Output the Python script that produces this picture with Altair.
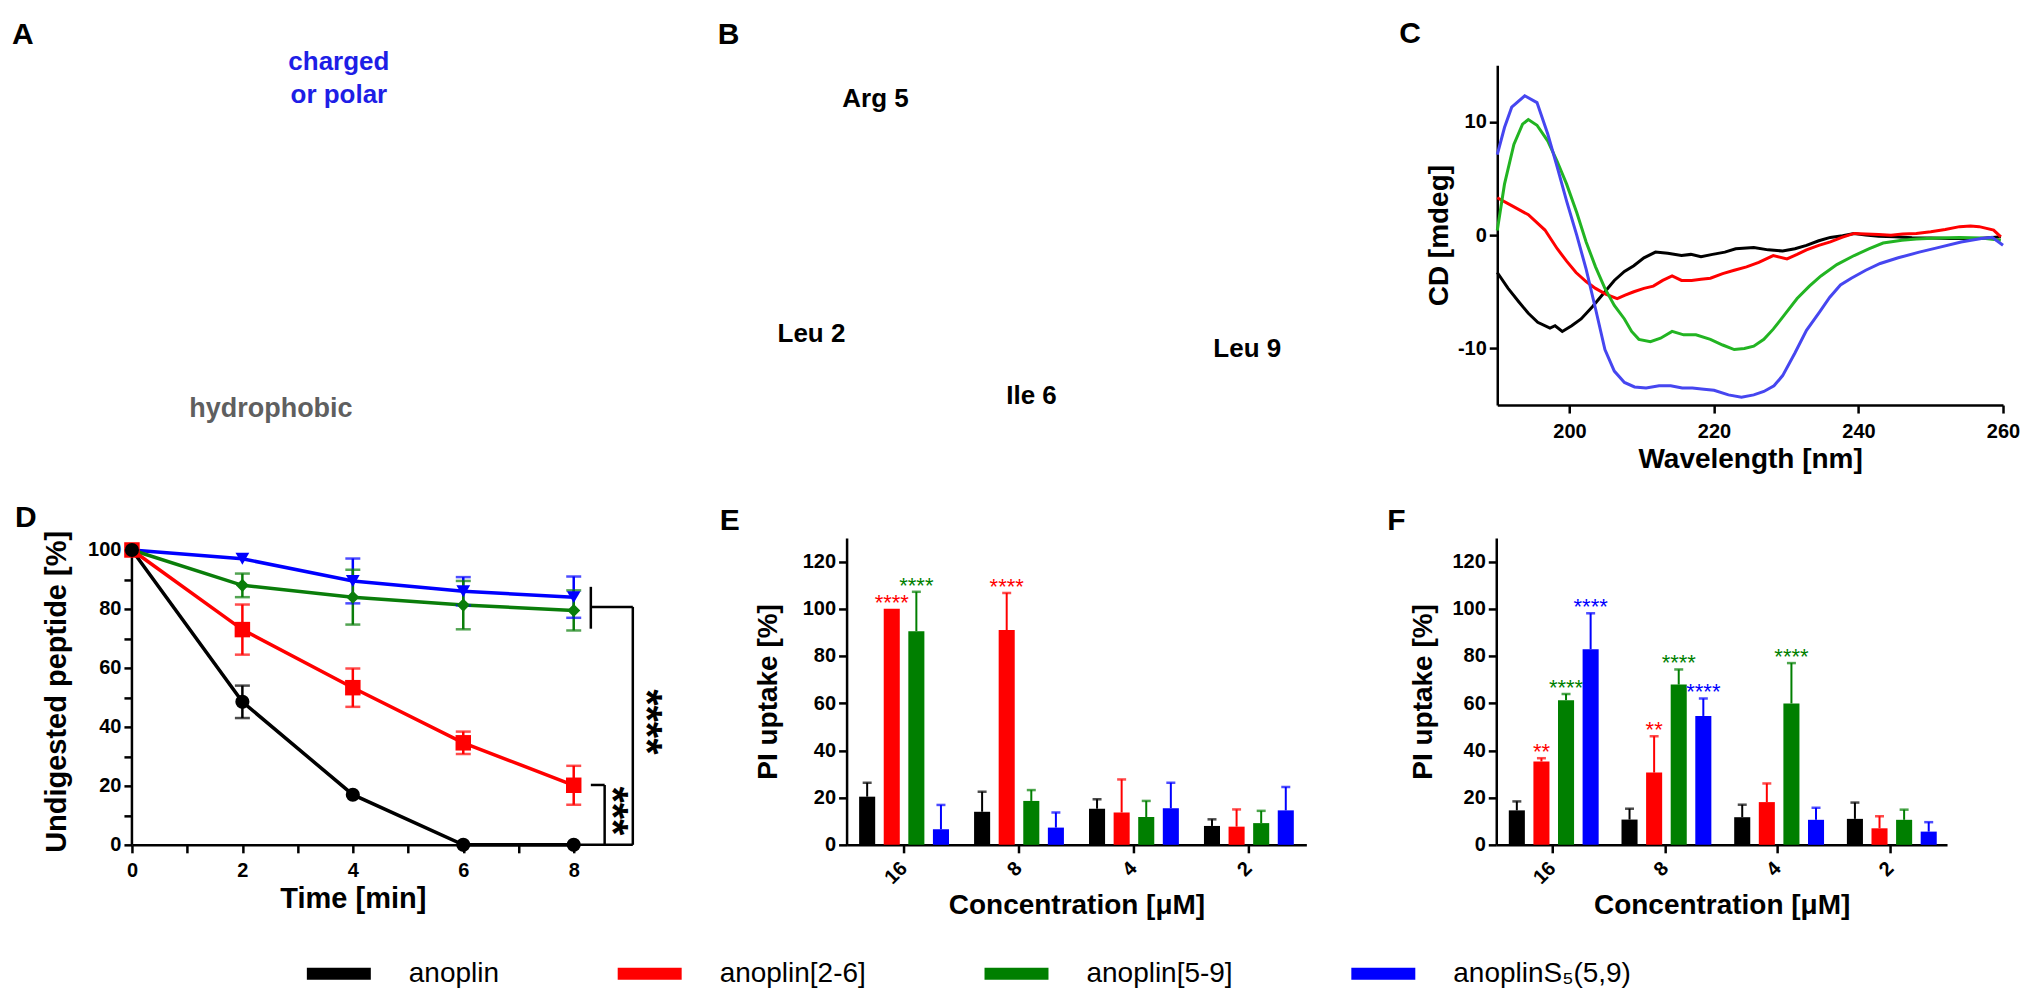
import altair as alt
import pandas as pd

SANS = "Liberation Sans, Arial, Helvetica, sans-serif"

SERIES = ["anoplin", "anoplin[2-6]", "anoplin[5-9]", "anoplinS\u2085(5,9)"]
BAR_COLORS = ["#000000", "#ff0000", "#007f00", "#0000ff"]
LINE_COLORS = ["#000000", "#ff0000", "#0a7d0a", "#0000ff"]
CD_COLORS = ["#000000", "#ff0000", "#22b422", "#4646f0"]
SHAPES = ["circle", "square", "diamond", "triangle-down"]
MARKER_SIZES = [200, 240, 170, 190]

# ---------------- Panel A / B annotations (fractions of the panel) -------------
AB_TEXT = ["A", "B", "charged", "or polar", "hydrophobic", "Arg 5", "Leu 2", "Ile 6", "Leu 9"]
AB_KIND = ["letter", "letter", "polar", "polar", "hydro", "res", "res", "res", "res"]
AB_FX = [-0.093, 0.4543, 0.1605, 0.1605, 0.1078, 0.5767, 0.527, 0.6977, 0.865]
AB_FY = [1.062, 1.062, 1.0088, 0.9118, -0.0118, 0.90, 0.209, 0.0265, 0.1647]

# ---------------- Panel C: CD spectra ----------------
CD_BLACK_WL = [190, 191.5, 193, 194.3, 195.6, 197.3, 198, 199, 200.3, 201.6, 203.2, 204.9, 206.2, 207.6,
               208.9, 210.3, 211.9, 213.6, 215.5, 216.8, 218.2, 219.8, 221.5, 223, 225.5, 227.5, 229.5,
               231.2, 232.8, 234.5, 236.1, 237.8, 239.4, 241, 242.8, 245, 247.4, 250, 252.7, 255, 256.7,
               258.5, 259.7]
CD_BLACK = [-3.3, -4.7, -5.9, -6.9, -7.7, -8.2, -8.0, -8.5, -8.0, -7.4, -6.3, -5.0, -4.0, -3.2, -2.7,
            -2.0, -1.5, -1.6, -1.8, -1.7, -1.9, -1.7, -1.5, -1.2, -1.1, -1.3, -1.4, -1.2, -0.9, -0.5,
            -0.2, -0.05, 0.15, 0.0, -0.1, -0.15, -0.24, -0.25, -0.3, -0.3, -0.3, -0.2, -0.15]
CD_RED_WL = [190, 192, 194.3, 196.6, 198.3, 199.6, 200.9, 202.3, 203.6, 205, 206.6, 207.7, 208.9, 210.3,
             211.6, 212.9, 214.2, 215.5, 216.9, 218.2, 219.5, 221.2, 222.8, 224.5, 226.2, 228.2, 230.1,
             231.5, 232.8, 234.5, 236.1, 237.7, 239.4, 241, 242.8, 244.5, 246.1, 248, 250, 252, 254,
             255.5, 256.7, 258.7, 259.7]
CD_RED = [3.3, 2.6, 1.8, 0.45, -1.2, -2.3, -3.3, -4.1, -4.7, -5.2, -5.6, -5.3, -5.0, -4.7, -4.5, -4.0,
          -3.6, -4.0, -4.0, -3.9, -3.8, -3.4, -3.1, -2.8, -2.4, -1.8, -2.1, -1.7, -1.3, -0.9, -0.6, -0.2,
          0.15, 0.1, 0.05, 0.0, 0.1, 0.15, 0.3, 0.5, 0.75, 0.8, 0.75, 0.45, -0.15]
CD_GREEN_WL = [190, 191, 192.3, 193.5, 194.3, 195.5, 197, 198.3, 199.6, 201, 202.3, 203.6, 204.9, 206.2,
               207.6, 208.6, 209.6, 211.2, 212.6, 214.2, 215.8, 217.5, 219.5, 221.2, 222.8, 224.2, 225.5,
               226.9, 228.2, 229.8, 231.5, 233.2, 234.8, 237, 239.4, 241.5, 243.4, 246, 248, 251, 254,
               257, 259.7]
CD_GREEN = [0.4, 4.5, 8.0, 9.8, 10.2, 9.7, 8.3, 6.5, 4.5, 2.0, -0.6, -2.8, -4.7, -6.2, -7.4, -8.5, -9.2,
            -9.4, -9.1, -8.5, -8.8, -8.8, -9.2, -9.7, -10.1, -10.0, -9.8, -9.2, -8.3, -7.0, -5.6, -4.5,
            -3.6, -2.6, -1.8, -1.2, -0.7, -0.45, -0.35, -0.25, -0.2, -0.25, -0.45]
CD_BLUE_WL = [190, 191, 192, 193.8, 195.5, 197, 198.3, 199.6, 201, 202.3, 203.6, 204.9, 206.2, 207.6,
              209, 210.6, 212.4, 214, 215.6, 217, 218.6, 220, 222, 223.8, 225.5, 226.9, 228.3, 229.5,
              231.2, 232.8, 234.6, 236, 237.5, 239, 241, 243, 245.5, 248.4, 251, 254.2, 257, 258.5, 260]
CD_BLUE = [7.1, 9.5, 11.3, 12.3, 11.7, 8.9, 6.0, 3.0, 0.0, -3.0, -6.5, -10.1, -12.0, -13.0, -13.4, -13.5,
           -13.3, -13.3, -13.5, -13.5, -13.6, -13.7, -14.1, -14.3, -14.1, -13.8, -13.3, -12.4, -10.4,
           -8.4, -6.8, -5.5, -4.4, -3.8, -3.1, -2.5, -2.0, -1.5, -1.1, -0.6, -0.3, -0.2, -0.9]

# ---------------- Panel D: digestion time course ----------------
TIME = [0, 2, 4, 6, 8]
D_MEAN = [[100, 48.5, 17, 0, 0],
          [100, 73, 53.3, 34.6, 20.2],
          [100, 88, 84, 81.3, 79.5],
          [100, 97, 89.5, 86, 84]]
D_SD = [[0, 5.5, 0, 0, 0],
        [0, 8.5, 6.5, 3.8, 6.6],
        [0, 4, 9.3, 8.2, 6.8],
        [0, 0, 7.6, 4.8, 7]]
# significance brackets (time units / % units)
BR_X = [8.31, 8.56, 8.0, 8.31, 8.31, 9.07]
BR_X2 = [8.56, 8.56, 9.07, 8.31, 9.07, 9.07]
BR_Y = [20.3, 20.3, 0, 87.5, 80.7, 80.7]
BR_Y2 = [20.3, 0, 0, 73.3, 80.7, 0]
D_STAR_TEXT = ["****", "***"]
D_STAR_X = [9.30, 8.69]
D_STAR_Y = [41.7, 11.5]

# ---------------- Panels E / F: PI uptake ----------------
CONC = ["16", "8", "4", "2"]
E_MEAN = [[20.4, 14, 15.3, 8], [100, 91, 13.7, 7.7], [90.5, 18.6, 11.8, 9.2], [6.6, 7.3, 15.5, 14.6]]
E_TOP = [[26.3, 22.5, 19.3, 10.8], [100, 106.7, 27.7, 15], [107.2, 23.2, 18.6, 14.4], [16.9, 13.7, 26.3, 24.5]]
E_SIG_SERIES = [1, 2, 1]
E_SIG_CONC = [0, 0, 1]
E_SIG_TEXT = ["****", "****", "****"]

F_MEAN = [[14.6, 10.7, 11.7, 11], [35.3, 30.6, 18.1, 7], [61.3, 67.9, 59.9, 10.6], [82.9, 54.6, 10.6, 5.6]]
F_TOP = [[18.4, 15.3, 17, 17.9], [36.7, 46, 26, 12.1], [63.9, 74.3, 77, 14.9], [98.1, 62, 15.7, 9.6]]
F_SIG_SERIES = [1, 2, 3, 1, 2, 3, 2]
F_SIG_CONC = [0, 0, 0, 1, 1, 1, 2]
F_SIG_TEXT = ["**", "****", "****", "**", "****", "****", "****"]


def letter(t, dx, offset):
    return alt.TitleParams(text=t, anchor="start", frame="group", dx=dx, offset=offset,
                           baseline="alphabetic", fontSize=30, font=SANS, fontWeight="bold",
                           color="black")


def spacer(w, h):
    return alt.Chart(pd.DataFrame({"v": [0]})).mark_point(opacity=0).encode(
        x=alt.X("v:Q", axis=None), y=alt.Y("v:Q", axis=None)).properties(width=w, height=h)


# ---------------- build A/B panel ----------------
ab_df = pd.DataFrame({"t": AB_TEXT, "kind": AB_KIND, "fx": AB_FX, "fy": AB_FY})
abx = alt.X("fx:Q", scale=alt.Scale(domain=[0, 1], nice=False), axis=None)
aby = alt.Y("fy:Q", scale=alt.Scale(domain=[0, 1], nice=False), axis=None)
ab_layers = [
    alt.Chart(ab_df).transform_filter(alt.datum.kind == "letter").mark_text(
        align="left", baseline="alphabetic", font=SANS, fontWeight="bold", fontSize=30, color="black"),
    alt.Chart(ab_df).transform_filter(alt.datum.kind == "polar").mark_text(
        align="center", baseline="middle", font=SANS, fontWeight="bold", fontSize=26, color="#1e1ee6"),
    alt.Chart(ab_df).transform_filter(alt.datum.kind == "hydro").mark_text(
        align="center", baseline="middle", font=SANS, fontWeight="bold", fontSize=27, color="#5f5f5f"),
    alt.Chart(ab_df).transform_filter(alt.datum.kind == "res").mark_text(
        align="center", baseline="middle", font=SANS, fontWeight="bold", fontSize=26, color="black"),
]
ab = alt.layer(*[l.encode(x=abx, y=aby, text="t:N") for l in ab_layers]).properties(width=1290, height=340)

# ---------------- build C ----------------
cd_rows = []
for wl_list, v_list, s, c in zip([CD_BLACK_WL, CD_RED_WL, CD_GREEN_WL, CD_BLUE_WL],
                                 [CD_BLACK, CD_RED, CD_GREEN, CD_BLUE], SERIES, CD_COLORS):
    for w, v in zip(wl_list, v_list):
        cd_rows.append({"wl": w, "cd": v, "series": s, "col": c})
cd_df = pd.DataFrame(cd_rows)
c_chart = alt.Chart(cd_df).mark_line(strokeWidth=3).encode(
    x=alt.X("wl:Q", scale=alt.Scale(domain=[190, 260], nice=False, zero=False),
            axis=alt.Axis(values=[200, 220, 240, 260], title="Wavelength [nm]", labelPadding=8,
                          titlePadding=4, labelFlush=False)),
    y=alt.Y("cd:Q", scale=alt.Scale(domain=[-15, 15], nice=False),
            axis=alt.Axis(values=[-10, 0, 10], title="CD [mdeg]", labelExpr="datum.value + ''",
                          titlePadding=4, labelFlush=False)),
    color=alt.Color("col:N", scale=None),
    detail="series:N",
).properties(width=506, height=340, title=letter("C", -98, -8))

# ---------------- build D ----------------
d_rows, cap_rows = [], []
for si in [3, 2, 1, 0]:
    for t, m, sd in zip(TIME, D_MEAN[si], D_SD[si]):
        d_rows.append({"t": t, "m": m, "lo": m - sd, "hi": m + sd, "series": SERIES[si],
                       "col": LINE_COLORS[si], "msize": MARKER_SIZES[si], "shp": SHAPES[si]})
        if sd > 0:
            cap_rows.append({"t": t, "cy": m - sd, "col": LINE_COLORS[si]})
            cap_rows.append({"t": t, "cy": m + sd, "col": LINE_COLORS[si]})
d_df = pd.DataFrame(d_rows)
cap_df = pd.DataFrame(cap_rows)
d_err_df = d_df[d_df.hi > d_df.lo]
br_df = pd.DataFrame({"bx": BR_X, "bx2": BR_X2, "by": BR_Y, "by2": BR_Y2})
dst_df = pd.DataFrame({"sx": D_STAR_X, "sy": D_STAR_Y, "st": D_STAR_TEXT})
axis_df = pd.DataFrame({"ax": [0], "ay": [0], "ay2": [100]})

D_TOP = 104.07   # plot area reaches a little above the 100 % axis end
dxs = alt.Scale(domain=[0, 8], nice=False, zero=False)
dys = alt.Scale(domain=[0, D_TOP], nice=False)
dxa = alt.Axis(values=list(range(9)), labelExpr="datum.value % 2 == 0 ? datum.label : ''",
               title="Time [min]", labelFlush=False, labelPadding=8, titlePadding=4, titleFontSize=29)
dya = alt.Axis(values=list(range(0, 101, 10)), labelExpr="datum.value % 20 == 0 ? datum.label : ''",
               title="Undigested peptide [%]", titlePadding=16, labelFlush=False, titleFontSize=29,
               domain=False)

d_axisline = alt.Chart(axis_df).mark_rule(strokeWidth=2.5, color="black").encode(
    x=alt.X("ax:Q", scale=dxs, axis=dxa), y=alt.Y("ay:Q", scale=dys, axis=dya), y2="ay2:Q")
d_br = alt.Chart(br_df).mark_rule(strokeWidth=2.5, color="black").encode(
    x=alt.X("bx:Q", scale=dxs, axis=dxa), x2="bx2:Q",
    y=alt.Y("by:Q", scale=dys, axis=dya), y2="by2:Q")
d_lines = alt.Chart(d_df).mark_line(strokeWidth=3.5).encode(
    x=alt.X("t:Q", scale=dxs, axis=dxa), y=alt.Y("m:Q", scale=dys, axis=dya),
    color=alt.Color("col:N", scale=None), detail="series:N")
d_err = alt.Chart(d_err_df).mark_rule(strokeWidth=2.5).encode(
    x=alt.X("t:Q", scale=dxs, axis=dxa), y=alt.Y("lo:Q", scale=dys, axis=dya), y2="hi:Q",
    color=alt.Color("col:N", scale=None))
d_caps = alt.Chart(cap_df).mark_tick(orient="horizontal", size=15, thickness=2.5).encode(
    x=alt.X("t:Q", scale=dxs, axis=dxa), y=alt.Y("cy:Q", scale=dys, axis=dya),
    color=alt.Color("col:N", scale=None))
d_pts = alt.Chart(d_df).mark_point(filled=True, opacity=1).encode(
    x=alt.X("t:Q", scale=dxs, axis=dxa), y=alt.Y("m:Q", scale=dys, axis=dya),
    shape=alt.Shape("shp:N", scale=None),
    color=alt.Color("col:N", scale=None), size=alt.Size("msize:Q", scale=None))
d_stars = alt.Chart(dst_df).mark_text(angle=90, fontSize=42, fontWeight="bold", font=SANS,
                                      align="center", baseline="middle", color="black").encode(
    x=alt.X("sx:Q", scale=dxs, axis=dxa), y=alt.Y("sy:Q", scale=dys, axis=dya), text="st:N")
d_chart = alt.layer(d_axisline, d_br, d_lines, d_err, d_caps, d_pts, d_stars).properties(
    width=442, height=307, title=letter("D", -117, -27))

# ---------------- build E / F ----------------
legend = alt.Legend(orient="none", legendX=175, legendY=877, direction="horizontal", title=None,
                    symbolType="M-1,-0.19L1,-0.19L1,0.19L-1,0.19Z", symbolSize=4096,
                    symbolStrokeWidth=0, symbolOpacity=1, labelFont=SANS, labelFontSize=28,
                    labelFontWeight="normal", labelColor="black", labelOffset=38,
                    columnPadding=118, labelLimit=500, padding=0)


def bar_panel(mean, top, sig_s, sig_c, sig_t, name, dx, width, title_pad):
    rows = []
    for si, s in enumerate(SERIES):
        for ci, c in enumerate(CONC):
            rows.append({"series": s, "conc": c, "val": mean[si][ci], "top": top[si][ci],
                         "col": BAR_COLORS[si]})
    df = pd.DataFrame(rows)
    sig_df = pd.DataFrame({"series": [SERIES[i] for i in sig_s], "conc": [CONC[i] for i in sig_c],
                           "txt": sig_t,
                           "top": [top[s][c] for s, c in zip(sig_s, sig_c)],
                           "col": [BAR_COLORS[i] for i in sig_s]})
    err_df = df[df.top > df.val]
    x = alt.X("conc:N", sort=CONC, scale=alt.Scale(paddingInner=0, paddingOuter=0),
              axis=alt.Axis(title="Concentration [\u03bcM]", labelAngle=-45, labelAlign="right",
                            labelBaseline="middle", labelPadding=12, titlePadding=4))
    xo = alt.XOffset("series:N", sort=SERIES,
                     scale=alt.Scale(domain=SERIES, paddingInner=0.347, paddingOuter=0.51))
    ys = alt.Scale(domain=[0, 130], nice=False)
    ya = alt.Axis(values=list(range(0, 121, 20)), title="PI uptake [%]", titlePadding=title_pad,
                  labelFlush=False)
    bars = alt.Chart(df).mark_bar(opacity=1).encode(
        x=x, xOffset=xo, y=alt.Y("val:Q", scale=ys, axis=ya),
        color=alt.Color("series:N", scale=alt.Scale(domain=SERIES, range=BAR_COLORS), legend=legend))
    rules = alt.Chart(err_df).mark_rule(strokeWidth=2).encode(
        x=x, xOffset=xo, y=alt.Y("val:Q", scale=ys, axis=ya), y2="top:Q",
        color=alt.Color("col:N", scale=None))
    caps = alt.Chart(err_df).mark_tick(orient="horizontal", size=9, thickness=2.5).encode(
        x=x, xOffset=xo, y=alt.Y("top:Q", scale=ys, axis=ya), color=alt.Color("col:N", scale=None))
    stars = alt.Chart(sig_df).mark_text(baseline="alphabetic", dy=1, fontSize=22, font=SANS).encode(
        x=x, xOffset=xo, y=alt.Y("top:Q", scale=ys, axis=ya), text="txt:N",
        color=alt.Color("col:N", scale=None))
    return alt.layer(bars, rules, caps, stars).properties(
        width=width, height=307, title=letter(name, dx, -22))


e_chart = bar_panel(E_MEAN, E_TOP, E_SIG_SERIES, E_SIG_CONC, E_SIG_TEXT, "E", -127, 460, 20)
f_chart = bar_panel(F_MEAN, F_TOP, F_SIG_SERIES, F_SIG_CONC, F_SIG_TEXT, "F", -109, 451, 14)

row1 = alt.hconcat(ab, c_chart, spacing=76, bounds="flush")
row2 = alt.hconcat(d_chart, spacer(273, 307), e_chart, spacer(190, 307), f_chart,
                   spacing=0, bounds="flush")

# with flush bounds a nested row counts as zero height, so the gap includes row 1's 340 px
chart = alt.vconcat(row1, row2, spacing=473, bounds="flush").properties(
    padding={"left": 4, "top": 11, "right": 5, "bottom": 5}
).configure_view(stroke=None).configure_axis(
    domainColor="black", domainWidth=2.5, tickColor="black", tickWidth=2.5, tickSize=8,
    labelFont=SANS, labelFontWeight="bold", labelFontSize=20, labelColor="black", labelPadding=3,
    titleFont=SANS, titleFontWeight="bold", titleFontSize=28, titleColor="black", grid=False,
).configure_legend(symbolOpacity=1)

chart.save("out.html", embed_options={"renderer": "svg", "actions": False})
